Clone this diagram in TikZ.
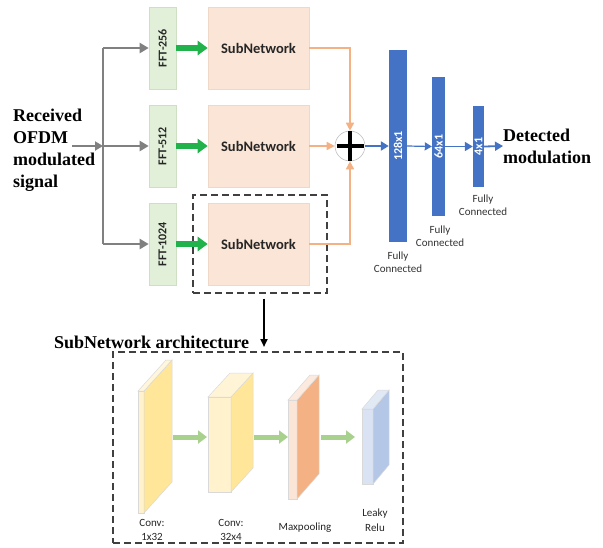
\documentclass[tikz,border=0pt]{standalone}
\usepackage{fontspec}
\setmainfont{Liberation Serif}
\newfontfamily\calib{Carlito}
\usetikzlibrary{arrows.meta}
\definecolor{fftfill}{HTML}{E2F0D9}
\definecolor{fftdraw}{HTML}{CFDFC4}
\definecolor{subfill}{HTML}{FBE5D6}
\definecolor{subdraw}{HTML}{EFD8C8}
\definecolor{orangeln}{HTML}{F4B183}
\definecolor{bluebar}{HTML}{4472C4}
\definecolor{greenar}{HTML}{22B24C}
\definecolor{lgreen}{HTML}{A9D18E}
\definecolor{grayln}{HTML}{808080}
\definecolor{dashc}{HTML}{404040}
\definecolor{ylight}{HTML}{FFF2CC}
\definecolor{ydark}{HTML}{FFE699}
\definecolor{olight}{HTML}{FBE5D6}
\definecolor{odark}{HTML}{F4B183}
\definecolor{blight}{HTML}{DAE3F3}
\definecolor{bdark}{HTML}{B4C7E7}
\definecolor{cubeedge}{HTML}{D9D9D9}
\begin{document}
\begin{tikzpicture}[x=1pt,y=-1pt,
  fftbox/.style={draw=fftdraw,fill=fftfill,line width=0.6pt,minimum width=27pt,minimum height=82pt,inner sep=0pt},
  fftlbl/.style={font=\calib\bfseries\fontsize{12}{14}\selectfont,text=black!85,rotate=90},
  subbox/.style={draw=subdraw,fill=subfill,line width=0.6pt,minimum width=101pt,minimum height=82pt,inner sep=0pt,font=\calib\bfseries\fontsize{14.5}{17}\selectfont,text=black!85},
  grayarrow/.style={draw=grayln,line width=2.2pt,-{Triangle[length=9pt,width=10pt]}},
  grayline/.style={draw=grayln,line width=2.2pt},
  greenarrow/.style={draw=greenar,line width=6pt,-{Triangle[length=10pt,width=14pt]}},
  orangearrow/.style={draw=orangeln,line width=1.6pt,-{Triangle[length=8pt,width=8pt]}},
  blueline/.style={draw=bluebar,-{Triangle[length=8pt,width=9pt]}},
  bar/.style={fill=bluebar,draw=none,inner sep=0pt},
  barlbl/.style={font=\calib\bfseries\fontsize{12}{14}\selectfont,text=white,rotate=90},
  fclbl/.style={font=\calib\fontsize{11}{13}\selectfont,text=black!80,align=center},
  heading/.style={font=\bfseries\fontsize{18}{22}\selectfont,align=left,inner sep=0pt},
  dashbox/.style={draw=dashc,line width=1.4pt,dash pattern=on 7pt off 4pt},
  lgarrow/.style={draw=lgreen,line width=5pt,-{Triangle[length=9pt,width=13pt]}},
  cubelbl/.style={font=\calib\fontsize{11}{14.5}\selectfont,text=black!85,align=center}
]
\useasboundingbox (0,0) rectangle (603,547);

% FFT boxes
\node[fftbox] (f1) at (162.5,48) {};
\node[fftbox] (f2) at (162.5,146) {};
\node[fftbox] (f3) at (162.5,244) {};
\node[fftlbl] at (f1) {FFT-256};
\node[fftlbl] at (f2) {FFT-512};
\node[fftlbl] at (f3) {FFT-1024};

% SubNetworks
\node[subbox] (s1) at (258.5,48) {SubNetwork};
\node[subbox] (s2) at (258.5,146) {SubNetwork};
\node[subbox] (s3) at (258.5,244) {SubNetwork};

% dashed box around third
\node[dashbox,minimum width=134pt,minimum height=98pt,inner sep=0pt] (db) at (260,244) {};

% input text
\node[heading,anchor=west] (inp) at (13,150) {Received\\OFDM\\modulated\\signal};
\coordinate (in0) at (72,146);
\coordinate (tr) at (103,146);
\coordinate (tr1) at (103,48);
\coordinate (tr3) at (103,244);
\draw[grayline] (tr1) -- (tr3);
\draw[grayarrow,-{Triangle[length=8pt,width=9pt]}] (in0) -- (tr);
\draw[grayarrow] (tr1) -- (f1.west);
\draw[grayarrow] (tr) -- (f2.west);
\draw[grayarrow] (tr3) -- (f3.west);

% green arrows
\draw[greenarrow] (f1.east) -- (s1.west);
\draw[greenarrow] (f2.east) -- (s2.west);
\draw[greenarrow] (f3.east) -- (s3.west);

% plus
\node[circle,draw=black!25,fill=white,line width=0.6pt,minimum size=30pt,inner sep=0pt] (pl) at (350,146) {};
\draw[line width=4pt] (pl.center) ++(-13.5,0) -- ++(27,0);
\draw[line width=4pt] (pl.center) ++(0,-15) -- ++(0,30);

% orange connectors
\draw[orangearrow] (s1.east) -| (pl.north);
\draw[orangearrow] (s2.east) -- (pl.west);
\draw[orangearrow] (s3.east) -| (pl.south);

% blue bars
\node[bar,minimum width=18pt,minimum height=192pt] (b1) at (398,146) {};
\node[bar,minimum width=13pt,minimum height=139pt] (b2) at (438.5,146.5) {};
\node[bar,minimum width=11pt,minimum height=81pt] (b3) at (478.5,146.5) {};
\node[barlbl] at (b1) {128x1};
\node[barlbl] at (b2) {64x1};
\node[barlbl] at (b3) {4x1};

\node[heading,anchor=west] (out) at (503,146) {Detected\\modulation};

\draw[blueline,line width=2.5pt] (pl.east) -- (b1.west);
\draw[blueline,line width=1.2pt,-{Triangle[length=7pt,width=8pt]}] (b1.east) -- (b2.west);
\draw[blueline,line width=1.6pt] (b2.east) -- (b3.west);
\draw[blueline,line width=1.8pt] (b3.east) -- (out.west);

\node[fclbl] at (398,262) {Fully\\Connected};
\node[fclbl] at (440,236) {Fully\\Connected};
\node[fclbl] at (483,205) {Fully\\Connected};

% lower part
\node[heading,anchor=west] (ttl) at (54,342) {SubNetwork architecture};
\node[dashbox,minimum width=290pt,minimum height=191pt,inner sep=0pt] (lb) at (258,447.5) {};
\coordinate (dn) at (264,347);
\draw[line width=2pt,-{Triangle[length=8pt,width=7pt]}] (db.south -| dn) ++(0,5) -- (dn);

% cubes: x, ytop, fw, fh, dx, dy, front, side, top
\newcommand{\mycube}[9]{%
  \fill[#7,draw=cubeedge,line width=0.5pt] (#1,#2) rectangle ++(#3,#4);
  \fill[#8,draw=cubeedge,line width=0.5pt] (#1+#3,#2) -- ++(#5,-#6) -- ++(0,#4) -- ++(-#5,#6) -- cycle;
  \fill[#9,draw=cubeedge,line width=0.5pt] (#1,#2) -- ++(#5,-#6) -- ++(#3,0) -- ++(-#5,#6) -- cycle;
}
\mycube{138}{391}{6}{122}{28}{31}{ylight}{ydark}{ylight!70!white}
\mycube{208}{397}{23}{95}{22}{24}{ylight}{ydark}{ylight!80!white}
\mycube{288}{400}{9}{99}{22}{25}{olight}{odark}{olight!80!white}
\mycube{362}{409}{11}{75}{16}{19}{blight}{bdark}{blight!80!white}

\coordinate (a1s) at (173,437);
\coordinate (a1e) at (207,437);
\coordinate (a2s) at (254,437);
\coordinate (a2e) at (288,437);
\coordinate (a3s) at (321,437);
\coordinate (a3e) at (355,437);
\draw[lgarrow] (a1s) -- (a1e);
\draw[lgarrow] (a2s) -- (a2e);
\draw[lgarrow] (a3s) -- (a3e);

\node[cubelbl] at (152,530) {Conv:\\1x32};
\node[cubelbl] at (231,530) {Conv:\\32x4};
\node[cubelbl] at (305,528) {Maxpooling};
\node[cubelbl] at (375,520) {Leaky\\Relu};
\end{tikzpicture}
\end{document}
